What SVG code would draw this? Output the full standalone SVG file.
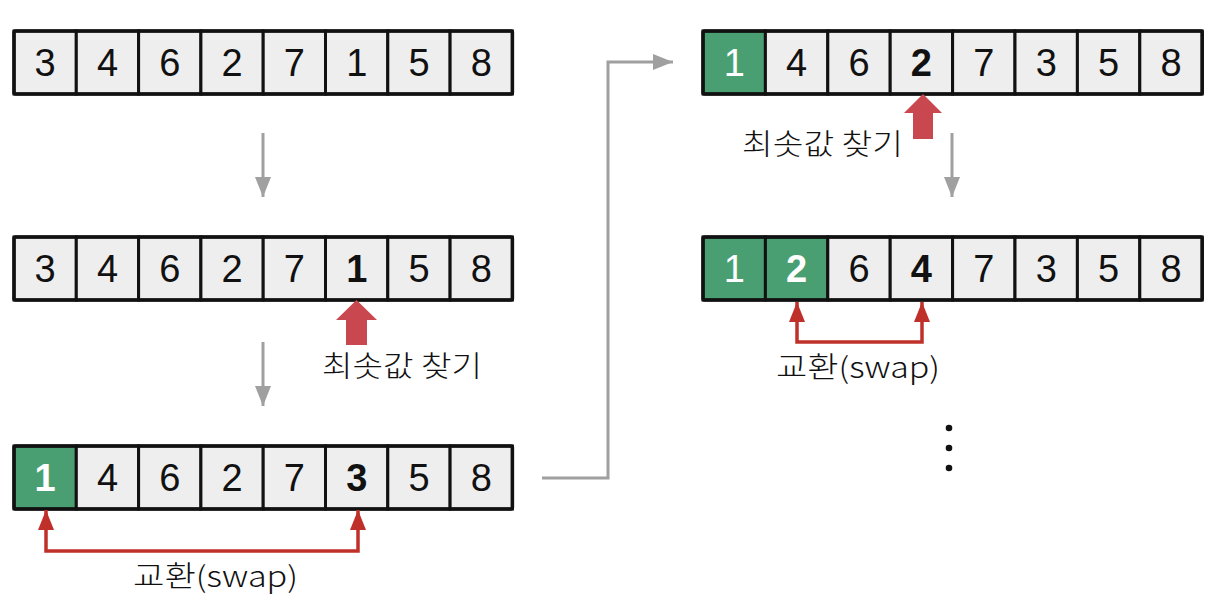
<svg xmlns="http://www.w3.org/2000/svg" width="1214" height="612" viewBox="0 0 1214 612">
<style>
.cell{fill:#eeeeee;stroke:#111;stroke-width:3}
.g{fill:#4a9f72;stroke:#111;stroke-width:3}
.frame{fill:none;stroke:#111;stroke-width:3.5}
.n{font-family:"Liberation Sans",Arial,sans-serif;font-size:38px;fill:#111;text-anchor:middle}
.b{font-weight:bold}
.w{fill:#fff}
.lbl{font-family:"Noto Sans CJK KR","Noto Sans",sans-serif;font-size:29px;font-weight:300;fill:#111}
.gray{fill:none;stroke:#a0a0a0;stroke-width:3}
.red{fill:none;stroke:#c0302a;stroke-width:3.5}
</style>
<defs>
<marker id="ga" markerUnits="userSpaceOnUse" markerWidth="22" markerHeight="18" refX="20" refY="8" orient="auto" viewBox="0 0 22 18">
<path d="M0,0 L20,8 L0,16 Z" fill="#a0a0a0"/>
</marker>
<marker id="ra" markerUnits="userSpaceOnUse" markerWidth="22" markerHeight="18" refX="20" refY="8" orient="auto-start-reverse" viewBox="0 0 22 18">
<path d="M0,0 L20,8 L0,16 Z" fill="#c0302a"/>
</marker>
</defs>

<g id="row1">
<rect class="cell" x="14" y="31" width="62.3" height="63"/><rect class="cell" x="76.3" y="31" width="62.3" height="63"/><rect class="cell" x="138.6" y="31" width="62.3" height="63"/><rect class="cell" x="200.9" y="31" width="62.3" height="63"/><rect class="cell" x="263.2" y="31" width="62.3" height="63"/><rect class="cell" x="325.5" y="31" width="62.3" height="63"/><rect class="cell" x="387.8" y="31" width="62.3" height="63"/><rect class="cell" x="450.1" y="31" width="62.3" height="63"/>
<rect class="frame" x="14" y="31" width="498.4" height="63" rx="1.5"/>
<text class="n" x="45" y="76">3</text><text class="n" x="107.5" y="76">4</text><text class="n" x="169.8" y="76">6</text><text class="n" x="232" y="76">2</text><text class="n" x="294.4" y="76">7</text><text class="n" x="356.7" y="76">1</text><text class="n" x="419" y="76">5</text><text class="n" x="481.3" y="76">8</text>
</g>

<g id="row2">
<rect class="cell" x="14" y="237" width="62.3" height="63"/><rect class="cell" x="76.3" y="237" width="62.3" height="63"/><rect class="cell" x="138.6" y="237" width="62.3" height="63"/><rect class="cell" x="200.9" y="237" width="62.3" height="63"/><rect class="cell" x="263.2" y="237" width="62.3" height="63"/><rect class="cell" x="325.5" y="237" width="62.3" height="63"/><rect class="cell" x="387.8" y="237" width="62.3" height="63"/><rect class="cell" x="450.1" y="237" width="62.3" height="63"/>
<rect class="frame" x="14" y="237" width="498.4" height="63" rx="1.5"/>
<text class="n" x="45" y="282">3</text><text class="n" x="107.5" y="282">4</text><text class="n" x="169.8" y="282">6</text><text class="n" x="232" y="282">2</text><text class="n" x="294.4" y="282">7</text><text class="n b" x="356.7" y="282">1</text><text class="n" x="419" y="282">5</text><text class="n" x="481.3" y="282">8</text>
</g>

<g id="row3">
<rect class="g" x="14" y="446" width="62.3" height="63"/><rect class="cell" x="76.3" y="446" width="62.3" height="63"/><rect class="cell" x="138.6" y="446" width="62.3" height="63"/><rect class="cell" x="200.9" y="446" width="62.3" height="63"/><rect class="cell" x="263.2" y="446" width="62.3" height="63"/><rect class="cell" x="325.5" y="446" width="62.3" height="63"/><rect class="cell" x="387.8" y="446" width="62.3" height="63"/><rect class="cell" x="450.1" y="446" width="62.3" height="63"/>
<rect class="frame" x="14" y="446" width="498.4" height="63" rx="1.5"/>
<text class="n b w" x="45" y="491">1</text><text class="n" x="107.5" y="491">4</text><text class="n" x="169.8" y="491">6</text><text class="n" x="232" y="491">2</text><text class="n" x="294.4" y="491">7</text><text class="n b" x="356.7" y="491">3</text><text class="n" x="419" y="491">5</text><text class="n" x="481.3" y="491">8</text>
</g>

<g id="rowA">
<rect class="g" x="703" y="31" width="62.4" height="63"/><rect class="cell" x="765.4" y="31" width="62.4" height="63"/><rect class="cell" x="827.8" y="31" width="62.4" height="63"/><rect class="cell" x="890.2" y="31" width="62.4" height="63"/><rect class="cell" x="952.6" y="31" width="62.4" height="63"/><rect class="cell" x="1015" y="31" width="62.4" height="63"/><rect class="cell" x="1077.4" y="31" width="62.4" height="63"/><rect class="cell" x="1139.8" y="31" width="62.4" height="63"/>
<rect class="frame" x="703" y="31" width="499.2" height="63" rx="1.5"/>
<text class="n w" x="734.2" y="76">1</text><text class="n" x="796.6" y="76">4</text><text class="n" x="859" y="76">6</text><text class="n b" x="921.4" y="76">2</text><text class="n" x="983.8" y="76">7</text><text class="n" x="1046.2" y="76">3</text><text class="n" x="1108.6" y="76">5</text><text class="n" x="1171" y="76">8</text>
</g>

<g id="rowB">
<rect class="g" x="703" y="237" width="62.4" height="63"/><rect class="g" x="765.4" y="237" width="62.4" height="63"/><rect class="cell" x="827.8" y="237" width="62.4" height="63"/><rect class="cell" x="890.2" y="237" width="62.4" height="63"/><rect class="cell" x="952.6" y="237" width="62.4" height="63"/><rect class="cell" x="1015" y="237" width="62.4" height="63"/><rect class="cell" x="1077.4" y="237" width="62.4" height="63"/><rect class="cell" x="1139.8" y="237" width="62.4" height="63"/>
<rect class="frame" x="703" y="237" width="499.2" height="63" rx="1.5"/>
<text class="n w" x="734.2" y="282">1</text><text class="n b w" x="796.6" y="282">2</text><text class="n" x="859" y="282">6</text><text class="n b" x="921.4" y="282">4</text><text class="n" x="983.8" y="282">7</text><text class="n" x="1046.2" y="282">3</text><text class="n" x="1108.6" y="282">5</text><text class="n" x="1171" y="282">8</text>
</g>

<g id="find1">
<path d="M356.5,300 L377,320 L367,320 L367,345 L346,345 L346,320 L336,320 Z" fill="#c9474f"/>
<text class="lbl" x="322" y="377" textLength="160" lengthAdjust="spacingAndGlyphs">최솟값 찾기</text>
</g>

<g id="find2">
<path d="M923,94 L942,113 L933,113 L933,139 L913,139 L913,113 L904,113 Z" fill="#c9474f"/>
<text class="lbl" x="742" y="155" textLength="161" lengthAdjust="spacingAndGlyphs">최솟값 찾기</text>
</g>

<g id="swap1">
<text class="lbl" x="133" y="587" textLength="165" lengthAdjust="spacingAndGlyphs">교환(swap)</text>
</g>

<g id="swap2">
<text class="lbl" x="776" y="378" textLength="164" lengthAdjust="spacingAndGlyphs">교환(swap)</text>
</g>

<g id="dots" fill="#111">
<circle cx="949" cy="428" r="3.3"/><circle cx="949" cy="448" r="3.3"/><circle cx="949" cy="468" r="3.3"/>
</g>

<g id="connectors">
<line class="gray" x1="263" y1="133" x2="263" y2="197" marker-end="url(#ga)"/>
<line class="gray" x1="263" y1="342" x2="263" y2="406" marker-end="url(#ga)"/>
<line class="gray" x1="952" y1="133" x2="952" y2="197" marker-end="url(#ga)"/>
<polyline class="gray" points="542,478 608,478 608,62 673,62" marker-end="url(#ga)"/>
<polyline class="red" points="46,510 46,551 358,551 358,510" marker-start="url(#ra)" marker-end="url(#ra)"/>
<polyline class="red" points="797,302 797,342 922,342 922,302" marker-start="url(#ra)" marker-end="url(#ra)"/>
</g>
</svg>
